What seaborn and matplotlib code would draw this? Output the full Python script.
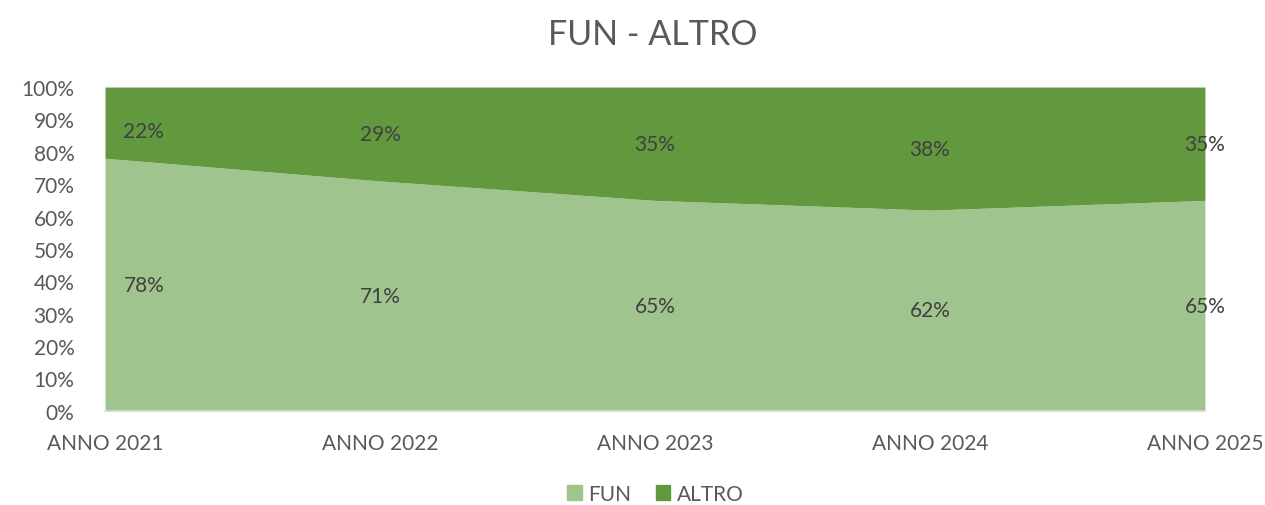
import matplotlib
matplotlib.use("Agg")
import matplotlib.pyplot as plt
from matplotlib.patches import Patch
import seaborn as sns
import pandas as pd
import numpy as np

categories = ["ANNO 2021", "ANNO 2022", "ANNO 2023", "ANNO 2024", "ANNO 2025"]
fun = [78, 71, 65, 62, 65]
altro = [22, 29, 35, 38, 35]

FUN_COLOR = "#A0C48E"
ALTRO_COLOR = "#62993E"

sns.set_theme(style="white")
plt.rcParams["font.family"] = ["Lato", "DejaVu Sans"]

df = pd.DataFrame({"anno": categories, "FUN": fun, "ALTRO": altro})
df["x"] = np.arange(len(df))
df["top_fun"] = df["FUN"] / (df["FUN"] + df["ALTRO"]) * 100
df["top_all"] = 100.0

fig = plt.figure(figsize=(12.65, 5.06), dpi=100)
ax = fig.add_axes([0.083, 0.186, 0.8695, 0.640])

# boundaries of the stacked areas
sns.lineplot(data=df, x="x", y="top_fun", ax=ax, color=FUN_COLOR, linewidth=0)
sns.lineplot(data=df, x="x", y="top_all", ax=ax, color=ALTRO_COLOR, linewidth=0)
ax.fill_between(df["x"], 0, df["top_fun"], color=FUN_COLOR, linewidth=0)
ax.fill_between(df["x"], df["top_fun"], df["top_all"], color=ALTRO_COLOR, linewidth=0)

ax.set_xlim(0, len(df) - 1)
ax.set_ylim(0, 100)
ax.set_yticks(np.arange(0, 101, 10))
ax.set_yticklabels([f"{v}%" for v in range(0, 101, 10)])
ax.set_xticks(df["x"])
ax.set_xticklabels(categories)
ax.set_xlabel("")
ax.set_ylabel("")
ax.tick_params(axis="both", labelsize=15, colors="#595959", length=0)
ax.tick_params(axis="y", pad=22)
ax.tick_params(axis="x", pad=16)

for side in ["top", "right", "left"]:
    ax.spines[side].set_visible(False)
ax.spines["bottom"].set_color("#D9D9D9")
ax.spines["bottom"].set_linewidth(1.2)

# data labels centred in each band; the first column is nudged inward
for i, row in df.iterrows():
    dx = 28 if i == 0 else 0
    dy_alt = -6 if i == 0 else 0
    mid_fun = row["top_fun"] / 2
    mid_alt = (row["top_fun"] + 100) / 2
    for y, val, dy in [(mid_fun, row["FUN"], 0), (mid_alt, row["ALTRO"], dy_alt)]:
        ax.annotate(f"{val}%", (row["x"], y), xytext=(dx, dy), textcoords="offset points",
                    ha="center", va="center", fontsize=15, color="#404040",
                    annotation_clip=False)

fig.suptitle("FUN - ALTRO", x=0.516, y=0.962, fontsize=24.5, color="#595959")

handles = [Patch(color=FUN_COLOR, label="FUN"), Patch(color=ALTRO_COLOR, label="ALTRO")]
leg = fig.legend(handles=handles, loc="center", bbox_to_anchor=(0.518, 0.022), ncol=2,
                 frameon=False, fontsize=15, handlelength=0.7, handleheight=0.7,
                 handletextpad=0.3, columnspacing=1.2)
for t in leg.get_texts():
    t.set_color("#595959")

fig.savefig("out.png", dpi=100)
